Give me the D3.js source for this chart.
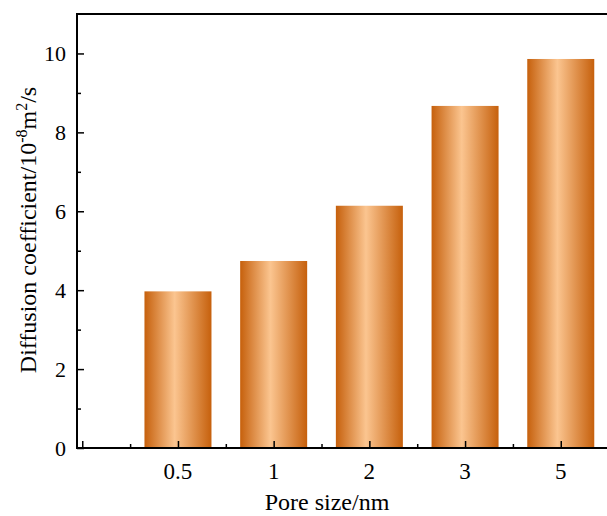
<!DOCTYPE html>
<html>
<head>
<meta charset="utf-8">
<script src="https://cdn.jsdelivr.net/npm/d3@7"></script>
<style>
body { margin: 0; background: #fff; }
text { font-family: "Liberation Serif", "DejaVu Serif", serif; fill: #000; }
</style>
</head>
<body>
<script>
let poreSizes = ["0.5", "1", "2", "3", "5"];
let diffusion = [3.97, 4.74, 6.14, 8.67, 9.86];
let yTicks = [0, 2, 4, 6, 8, 10];

let w = 607, h = 516;
let plotLeft = 77, plotTop = 14, plotBottom = 448;

let svg = d3.select("body").append("svg")
  .attr("width", w)
  .attr("height", h);

let defs = svg.append("defs");
let grad = defs.append("linearGradient")
  .attr("id", "barGrad")
  .attr("x1", "0%").attr("x2", "100%")
  .attr("y1", "0%").attr("y2", "0%");
grad.append("stop").attr("offset", "0%").attr("stop-color", "#c6600c");
grad.append("stop").attr("offset", "45%").attr("stop-color", "#fbc590");
grad.append("stop").attr("offset", "100%").attr("stop-color", "#c6600c");

// x is a position index: 0 is an empty slot, bars sit at 1..5
let x = d3.scaleLinear()
  .domain([-0.055, 5.4])
  .range([plotLeft, plotLeft + (5.4 + 0.055) * 95.7]);

let y = d3.scaleLinear()
  .domain([0, 11])
  .range([plotBottom, plotTop]);

let barW = 67;

svg.selectAll("rect.bar")
  .data(diffusion)
  .enter()
  .append("rect")
  .attr("class", "bar")
  .attr("x", (d, i) => x(i + 1) - barW / 2)
  .attr("y", d => y(d))
  .attr("width", barW)
  .attr("height", d => y(0) - y(d))
  .style("fill", "url(#barGrad)");

// y axis, ticks inside
let yAxis = d3.axisRight(y)
  .tickValues(d3.range(0, 11, 1))
  .tickSize(0)
  .tickFormat("");
let gy = svg.append("g")
  .attr("transform", "translate(" + plotLeft + ",0)")
  .call(yAxis);
gy.select(".domain").remove();
gy.selectAll(".tick line")
  .attr("x2", d => d % 2 == 0 ? 7 : 4)
  .attr("stroke", "#000")
  .attr("stroke-width", 1.5);

svg.selectAll("text.ylab")
  .data(yTicks)
  .enter()
  .append("text")
  .attr("class", "ylab")
  .attr("x", plotLeft - 11)
  .attr("y", d => y(d))
  .attr("dy", "0.35em")
  .attr("text-anchor", "end")
  .style("font-size", "22px")
  .text(d => d);

// x axis, ticks inside
let xAxis = d3.axisTop(x)
  .tickValues(d3.range(0, 5.5, 0.5))
  .tickSize(0)
  .tickFormat("");
let gx = svg.append("g")
  .attr("transform", "translate(0," + plotBottom + ")")
  .call(xAxis);
gx.select(".domain").remove();
gx.selectAll(".tick line")
  .attr("y2", d => d % 1 == 0 ? -7 : -4)
  .attr("stroke", "#000")
  .attr("stroke-width", 1.5);

svg.selectAll("text.xlab")
  .data(poreSizes)
  .enter()
  .append("text")
  .attr("class", "xlab")
  .attr("x", (d, i) => x(i + 1))
  .attr("y", 479)
  .attr("text-anchor", "middle")
  .style("font-size", "23px")
  .text(d => d);

// frame: left, bottom, top
svg.append("line")
  .attr("x1", plotLeft).attr("x2", plotLeft)
  .attr("y1", plotTop).attr("y2", plotBottom)
  .attr("stroke", "#000").attr("stroke-width", 2);
svg.append("line")
  .attr("x1", plotLeft - 1).attr("x2", w)
  .attr("y1", plotBottom).attr("y2", plotBottom)
  .attr("stroke", "#000").attr("stroke-width", 2);
svg.append("line")
  .attr("x1", plotLeft - 1).attr("x2", w)
  .attr("y1", plotTop).attr("y2", plotTop)
  .attr("stroke", "#000").attr("stroke-width", 2);

// axis titles
svg.append("text")
  .attr("x", 327)
  .attr("y", 510)
  .attr("text-anchor", "middle")
  .style("font-size", "24px")
  .text("Pore size/nm");

let yt = svg.append("text")
  .attr("transform", "translate(36,230) rotate(-90)")
  .attr("text-anchor", "middle")
  .style("font-size", "24px");
yt.append("tspan").text("Diffusion coefficient/10");
yt.append("tspan").attr("dy", -9).style("font-size", "16px").text("-8");
yt.append("tspan").attr("dy", 9).text("m");
yt.append("tspan").attr("dy", -9).style("font-size", "16px").text("2");
yt.append("tspan").attr("dy", 9).text("/s");
</script>
</body>
</html>
